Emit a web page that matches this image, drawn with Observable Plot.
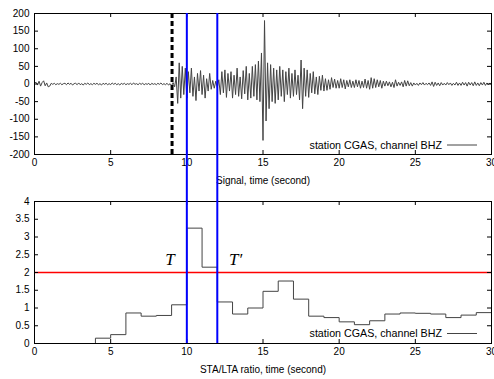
<!DOCTYPE html>
<html>
<head>
<meta charset="utf-8">
<script src="https://cdn.jsdelivr.net/npm/d3@7"></script>
<script src="https://cdn.jsdelivr.net/npm/@observablehq/plot@0.6"></script>
<style>
  html, body { margin: 0; padding: 0; background: #fff; }
  #wrap { position: relative; width: 494px; height: 379px; overflow: hidden; }
  #panelTop, #panelBot { position: absolute; left: 0; }
  #panelTop { top: 0; }
  #panelBot { top: 190px; }
</style>
</head>
<body>
<div id="wrap"><div id="panelTop"></div><div id="panelBot"></div></div>
<script>
// ---- data ----
const sampleStep = 0.1; // seconds between signal samples
const signalValues = [
  2, 5, -3, 8, -6, 4, 9, -5, 3, -8,
  -6, 2, -1, 2, -2, 1, -1, 2, -2, 1,
  2, -2, 3, -1, 2, -3, 1, 2, -2, 3,
  -2, 1, -3, 2, -1, 3, -2, 1, -2, 2,
  -1, 2, -2, 1, -3, 2, -1, 2, -2, 1,
  -2, 3, -1, 2, -2, 1, -3, 2, -1, 2,
  -2, 1, -1, 2, -2, 3, -1, 1, -2, 2,
  -1, 2, -2, 1, -1, 2, -3, 2, -1, 1,
  -2, 2, -1, 3, -2, 1, -2, 2, -3, 1,
  -5, 4, -8, 20, -55, 60, -40, 50, -30, 45,
  -40, 35, -25, 45, -35, 20, -47, 30, -20, 38,
  -30, 25, -40, 15, -20, 30, -15, 10, -12, 8,
  -10, 12, -30, 35, -25, 40, -38, 30, -20, 35,
  -40, 25, -30, 45, -35, 20, -42, 38, -28, 50,
  -45, 30, -40, 50, -35, 55, -45, 65, -50, 88,
  -160, 180, -105, 60, -70, 55, -50, 45, -55, 40,
  -45, 50, -35, 40, -50, 35, -30, 45, -40, 30,
  -35, 40, -30, 25, -45, 68, -70, 45, -35, 40,
  -38, 30, -25, 35, -28, 20, -30, 22, -18, 25,
  -20, 15, -18, 12, -15, 18, -10, 14, -12, 10,
  -12, 15, -10, 12, -14, 10, -8, 12, -10, 8,
  -10, 12, -8, 10, -12, 8, -10, 14, -12, 10,
  -15, 18, -12, 15, -10, 12, -8, 10, -12, 8,
  -6, 8, -5, 6, -8, 5, -10, 12, -6, 5,
  -4, 6, -8, 10, -6, 9, -5, 4, -6, 3,
  -3, 2, -4, 3, -2, 4, -3, 2, -2, 3,
  -4, 6, -7, 5, -4, 3, -5, 4, -3, 2,
  -3, 4, -2, 3, -4, 2, -3, 5, -4, 3,
  -4, 5, -3, 4, -6, 5, -3, 4, -5, 6,
  -4, 3, -5, 4, -3, 5, -4, 3, -2, 3,
  -2
];
const ratioTimes  = [0,1,2,3,4,5,6,7,8,9,10,11,12,13,14,15,16,17,18,19,20,21,22,23,24,25,26,27,28,29,30];
const ratioValues = [0,0,0,0,0.15,0.25,0.86,0.77,0.79,1.09,3.25,2.15,1.17,0.83,1.0,1.47,1.76,1.25,0.77,0.73,0.61,0.53,0.64,0.83,0.86,0.85,0.83,0.73,0.8,0.87,0.87];
const onsetTime = 9.03;          // dashed marker
const windowTimes = [10, 12];    // T and T'
const threshold = 2;
const markLabels = ["T", "T\u2032"];
const markLabelX = [8.9, 13.2];
const markLabelY = 2.2;
const xTicks = [0, 5, 10, 15, 20, 25, 30];
const yTicksSignal = [-200, -150, -100, -50, 0, 50, 100, 150, 200];
const yTicksRatio = [0, 0.5, 1, 1.5, 2, 2.5, 3, 3.5, 4];
const legendText = "station CGAS, channel BHZ";
const xTitleTop = "Signal, time (second)";
const xTitleBottom = "STA/LTA ratio, time (second)";

const signal = signalValues.map((v, i) => ({t: i * sampleStep, v}));
const ratio = ratioTimes.map((t, i) => ({t, v: ratioValues[i]}));

// ---- layout ----
const W = 494, ML = 34, MR = 3, TL = 4;
const FW = W - ML - MR;
const font = {fontFamily: "'Liberation Sans', Arial, Helvetica, sans-serif", fontSize: "10px", background: "transparent", overflow: "visible"};

function legendMark(dy) {
  return (index, scales, values, dims) => {
    const x = dims.width - dims.marginRight;
    const y = dims.height - dims.marginBottom + dy;
    const g = d3.create("svg:g");
    g.append("text").attr("x", x - 49).attr("y", y).attr("dy", "0.35em")
      .attr("text-anchor", "end").attr("fill", "black")
      .attr("font-size", 10.7).text(legendText);
    g.append("line").attr("x1", x - 44).attr("x2", x - 14).attr("y1", y).attr("y2", y)
      .attr("stroke", "#444").attr("stroke-width", 1);
    return g.node();
  };
}

function frameTicks(yTicks, FH) {
  return [
    Plot.tickY(yTicks, {y: d => d, insetRight: FW - TL, stroke: "black"}),
    Plot.tickY(yTicks, {y: d => d, insetLeft: FW - TL, stroke: "black"}),
    Plot.tickX(xTicks, {x: d => d, insetBottom: FH - TL, stroke: "black"}),
    Plot.tickX(xTicks, {x: d => d, insetTop: FH - TL, stroke: "black"})
  ];
}

// ---- top panel ----
const H1 = 190, MT1 = 13, MB1 = 36, FH1 = H1 - MT1 - MB1;
const chartTop = Plot.plot({
  width: W, height: H1,
  marginLeft: ML, marginRight: MR, marginTop: MT1, marginBottom: MB1,
  style: font,
  x: {domain: [0, 30]},
  y: {domain: [-200, 200]},
  marks: [
    Plot.lineY(signal, {x: "t", y: "v", stroke: "#444", strokeWidth: 1}),
    Plot.ruleX([onsetTime], {stroke: "black", strokeWidth: 3, strokeDasharray: "5,3"}),
    ...frameTicks(yTicksSignal, FH1),
    Plot.axisY({ticks: yTicksSignal, tickSize: 0, tickPadding: 5, tickFormat: d => String(d), label: null}),
    Plot.axisX({ticks: xTicks, tickSize: 0, tickPadding: 4, tickFormat: d => String(d),
      label: xTitleTop, labelAnchor: "center", labelArrow: "none", labelOffset: 29}),
    Plot.frame({stroke: "black"}),
    legendMark(-9),
    Plot.ruleX(windowTimes, {stroke: "#0000ff", strokeWidth: 2, insetBottom: -MB1})
  ]
});
document.getElementById("panelTop").appendChild(chartTop);

// ---- bottom panel ----
const H2 = 189, MT2 = 11, MB2 = 36, FH2 = H2 - MT2 - MB2;
const chartBot = Plot.plot({
  width: W, height: H2,
  marginLeft: ML, marginRight: MR, marginTop: MT2, marginBottom: MB2,
  style: font,
  x: {domain: [0, 30]},
  y: {domain: [0, 4]},
  marks: [
    Plot.lineY(ratio, {x: "t", y: "v", curve: "step-after", stroke: "#444", strokeWidth: 1}),
    Plot.ruleY([threshold], {stroke: "#ff0000", strokeWidth: 1.5}),
    Plot.text(markLabels, {x: (d, i) => markLabelX[i], y: markLabelY, text: d => d,
      fontFamily: "'Liberation Serif', 'Times New Roman', serif", fontStyle: "italic",
      fontSize: 17, lineAnchor: "bottom", fill: "black"}),
    ...frameTicks(yTicksRatio, FH2),
    Plot.axisY({ticks: yTicksRatio, tickSize: 0, tickPadding: 5, tickFormat: d => String(d), label: null}),
    Plot.axisX({ticks: xTicks, tickSize: 0, tickPadding: 4, tickFormat: d => String(d),
      label: xTitleBottom, labelAnchor: "center", labelArrow: "none", labelOffset: 29}),
    Plot.frame({stroke: "black"}),
    legendMark(-9.5),
    Plot.ruleX(windowTimes, {stroke: "#0000ff", strokeWidth: 2, insetTop: -MT2})
  ]
});
document.getElementById("panelBot").appendChild(chartBot);
</script>
</body>
</html>
